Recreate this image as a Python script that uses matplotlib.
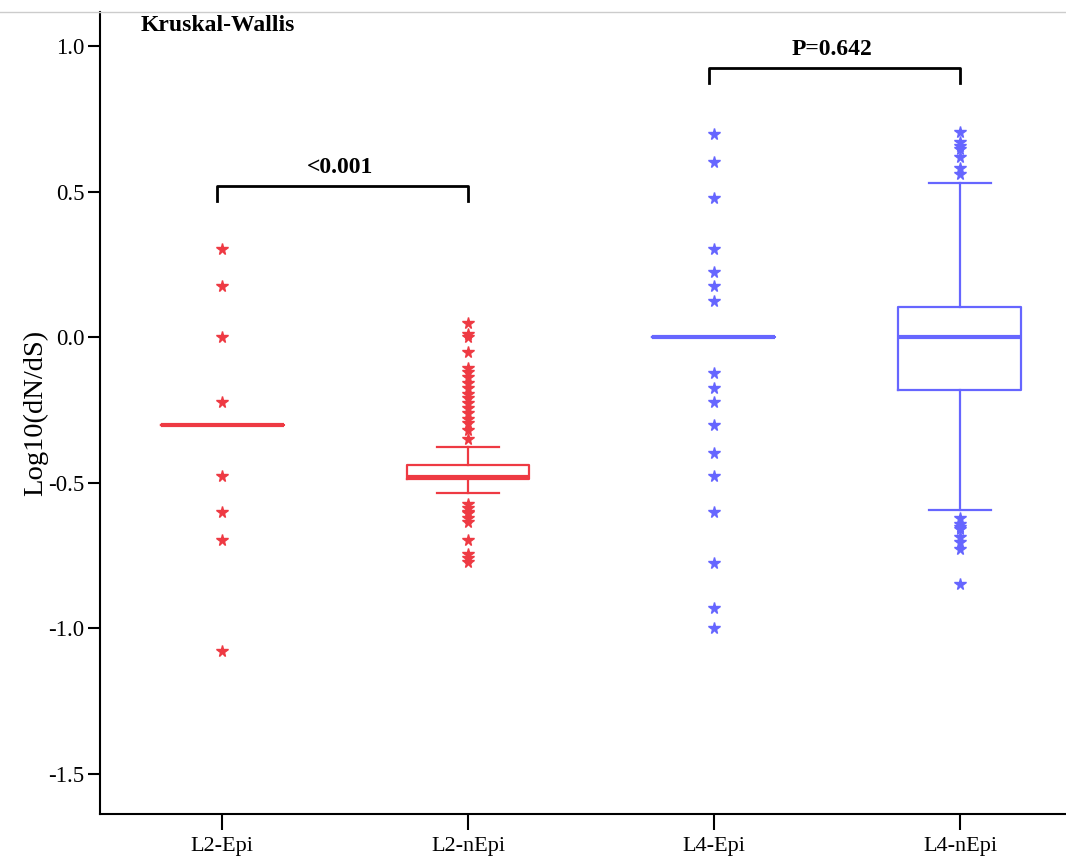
import matplotlib.pyplot as plt
from matplotlib.ticker import FuncFormatter

plt.rcParams['font.family'] = ['Liberation Serif', 'DejaVu Serif']

# groups and colours
groups = ['L2-Epi', 'L2-nEpi', 'L4-Epi', 'L4-nEpi']
colors = ['#EE3A43', '#EE3A43', '#6666FF', '#6666FF']

# box summaries (log10 dN/dS)
medians = [-0.301, -0.480, 0.0, 0.0]
q1s = [-0.301, -0.487, 0.0, -0.182]
q3s = [-0.301, -0.440, 0.0, 0.102]
whis_lo = [-0.301, -0.537, 0.0, -0.595]
whis_hi = [-0.301, -0.377, 0.0, 0.530]

# outliers (stars)
fl_l2_epi = [0.301, 0.176, 0.0, -0.222, -0.477, -0.602, -0.699, -1.08]
fl_l2_nepi = [0.047, 0.010, 0.0, -0.050, -0.108, -0.120, -0.137, -0.159, -0.176,
              -0.194, -0.211, -0.228, -0.245, -0.262, -0.280, -0.297, -0.320,
              -0.349, -0.572, -0.589, -0.600, -0.606, -0.623, -0.634, -0.698,
              -0.745, -0.758, -0.772]
fl_l4_epi = [0.699, 0.602, 0.477, 0.301, 0.222, 0.176, 0.125, -0.125, -0.176,
             -0.222, -0.301, -0.398, -0.477, -0.602, -0.778, -0.930, -1.0]
fl_l4_nepi = [0.706, 0.671, 0.656, 0.645, 0.620, 0.580, 0.562, -0.623, -0.641,
              -0.652, -0.658, -0.687, -0.704, -0.727, -0.847]
fliers = [fl_l2_epi, fl_l2_nepi, fl_l4_epi, fl_l4_nepi]

# significance brackets: (left group, right group, y, text)
brackets = [(1, 2, 0.519, '<0.001'), (3, 4, 0.924, 'P=0.642')]

fig = plt.figure(figsize=(10.66, 8.57), dpi=100)
ax = fig.add_axes([100 / 1066, 43 / 857, 966 / 1066, 802 / 857])

for i in range(4):
    st = dict(med=medians[i], q1=q1s[i], q3=q3s[i], whislo=whis_lo[i],
              whishi=whis_hi[i], fliers=fliers[i])
    c = colors[i]
    ax.bxp([st], positions=[i + 1], widths=0.5, capwidths=0.25,
           showcaps=True, showfliers=True,
           boxprops=dict(color=c, linewidth=1.6),
           whiskerprops=dict(color=c, linewidth=1.6),
           capprops=dict(color=c, linewidth=1.6),
           medianprops=dict(color=c, linewidth=3.0, solid_capstyle='butt'),
           flierprops=dict(marker='*', markersize=8.5, markerfacecolor=c,
                           markeredgecolor=c, linestyle='none'))

for a, b, y, txt in brackets:
    ax.plot([a - 0.02, a - 0.02, b, b], [y - 0.05, y, y, y - 0.05],
            color='black', linewidth=2.0)
    ax.text((a + b) / 2 - 0.02, y + 0.064, txt, ha='center', va='center',
            fontsize=17, fontweight='bold')

ax.text(0.67, 1.07, 'Kruskal-Wallis', ha='left', va='center',
        fontsize=17, fontweight='bold')

ax.set_xlim(0.504, 4.431)
ax.set_ylim(-1.639, 1.117)
ax.set_xticks([1, 2, 3, 4])
ax.set_xticklabels(groups)
ax.set_yticks([-1.5, -1.0, -0.5, 0.0, 0.5, 1.0])
ax.yaxis.set_major_formatter(FuncFormatter(lambda v, p: '%.1f' % v))
ax.tick_params(axis='y', length=9, width=1.5, labelsize=16.5, pad=2)
ax.tick_params(axis='x', length=11.5, width=1.5, labelsize=16, pad=5)
ax.set_ylabel('Log10(dN/dS)', fontsize=20.5, labelpad=0)

ax.spines['top'].set_visible(False)
ax.spines['right'].set_visible(False)
ax.spines['left'].set_linewidth(1.5)
ax.spines['bottom'].set_linewidth(1.5)

# thin grey frame line at the top of the picture
fig.add_artist(plt.Line2D([0, 1], [1 - 12 / 857, 1 - 12 / 857],
                          color='#cccccc', linewidth=1.0))

fig.savefig('out.png', dpi=100)
